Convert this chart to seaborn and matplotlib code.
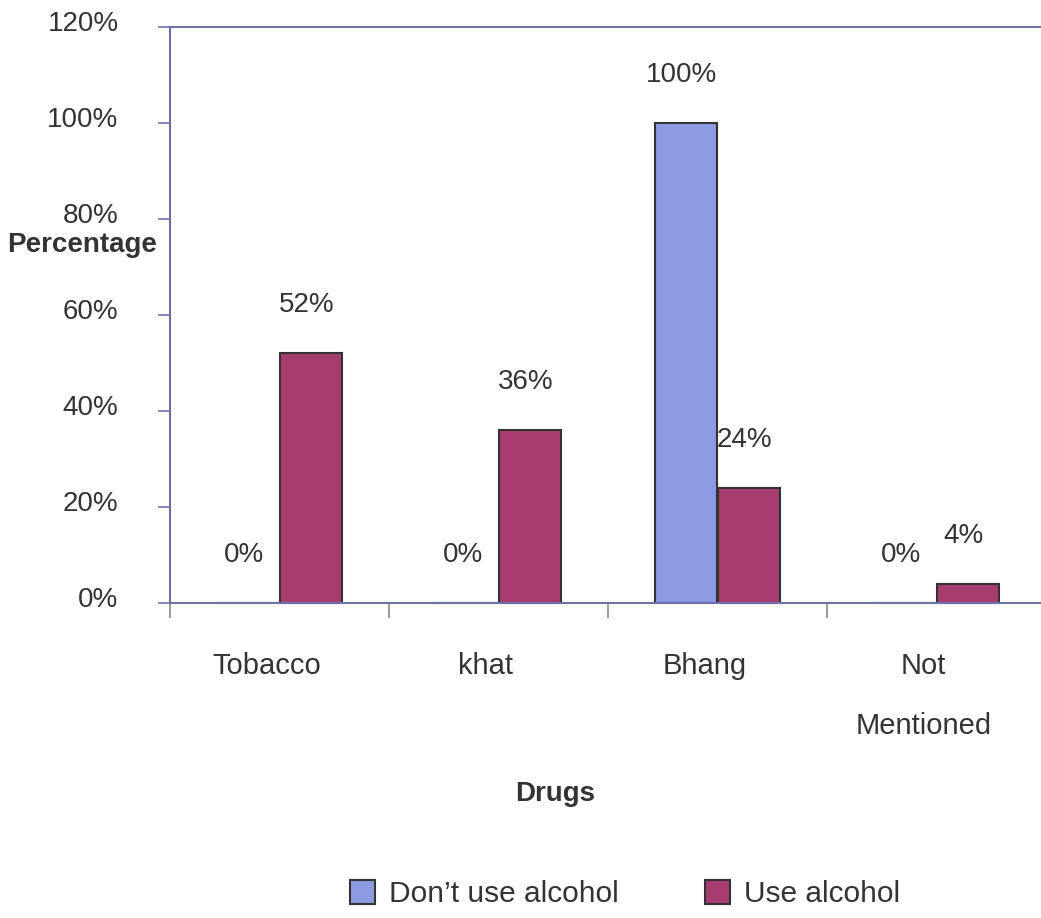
import matplotlib
matplotlib.use("Agg")
import matplotlib.pyplot as plt
import matplotlib.transforms as mtransforms
from matplotlib.patches import Patch
from matplotlib.ticker import FuncFormatter, FixedLocator
import seaborn as sns
import pandas as pd

# ---- data ----
drugs = ["Tobacco", "khat", "Bhang", "Not\nMentioned"]
groups = ["Don\u2019t use alcohol", "Use alcohol"]
dont_use = [0, 0, 100, 0]
use_alc = [52, 36, 24, 4]
y_ticks = [0, 20, 40, 60, 80, 100, 120]

colors = ["#8C9BE4", "#A63C70"]
text_col = "#333333"
spine_col = "#6E70A8"

df = pd.DataFrame({
    "Drug": drugs * 2,
    "Group": [groups[0]] * 4 + [groups[1]] * 4,
    "Value": dont_use + use_alc,
})

sns.set_style("white")
plt.rcParams["font.family"] = ["Liberation Sans", "DejaVu Sans"]

fig = plt.figure(figsize=(10.41, 9.18), dpi=100)
W, H = 1041, 918
ax = fig.add_axes([170 / W, 1 - 603 / H, 876 / W, 576 / H])

sns.barplot(data=df, x="Drug", y="Value", hue="Group", order=drugs,
            hue_order=groups, palette=colors, width=0.575,
            edgecolor="#333333", linewidth=1.5, legend=False, ax=ax,
            saturation=1)

ax.set_xlim(-0.5, 3.5)
ax.set_ylim(0, 120)
ax.set_xlabel("")
ax.set_ylabel("")

# y axis
ax.yaxis.set_major_locator(FixedLocator(y_ticks))
ax.yaxis.set_major_formatter(FuncFormatter(lambda v, p: f"{v:.0f}%"))
ax.tick_params(axis="y", direction="out", length=9, width=1.2, color=spine_col,
               pad=28, labelsize=20, labelcolor=text_col, left=True)
ytrans = mtransforms.ScaledTranslation(0, 6 / 100, fig.dpi_scale_trans)
for lab in ax.get_yticklabels():
    lab.set_transform(lab.get_transform() + ytrans)

# x axis: labels at centers, tick marks at boundaries
ax.tick_params(axis="x", which="major", length=0, pad=35, labelsize=21,
               labelcolor=text_col)
ax.set_xticks(range(len(drugs)))
ax.set_xticklabels(drugs)
ax.set_xticks([-0.5, 0.5, 1.5, 2.5, 3.5], minor=True)
ax.tick_params(axis="x", which="minor", direction="out", length=11, width=1.2,
               color="#888888", bottom=True)
xtrans = mtransforms.ScaledTranslation(-13 / 100, 0, fig.dpi_scale_trans)
for lab in ax.get_xticklabels():
    lab.set_transform(lab.get_transform() + xtrans)
    lab.set_linespacing(2.45)
    lab.set_verticalalignment("top")

for side in ["left", "top", "bottom"]:
    ax.spines[side].set_visible(True)
    ax.spines[side].set_color(spine_col)
    ax.spines[side].set_linewidth(1.5)
ax.spines["right"].set_visible(False)

# value labels
for p in ax.patches:
    h = p.get_height()
    xc = p.get_x() + p.get_width() / 2
    ax.annotate(f"{h:.0f}%", (xc, h), xytext=(-3, 34.5),
                textcoords="offset points", ha="center", va="center",
                fontsize=20, color=text_col, annotation_clip=False)

# axis titles
fig.text(82 / W, 1 - 245 / H, "Percentage", fontsize=20, fontweight="bold",
         color=text_col, ha="center", va="center")
fig.text(555 / W, 1 - 794 / H, "Drugs", fontsize=20, fontweight="bold",
         color=text_col, ha="center", va="center")

# legend
handles = [Patch(facecolor=c, edgecolor="#333333", linewidth=1.5) for c in colors]
fig.legend(handles, groups, loc="center", bbox_to_anchor=(625 / W, 1 - 894 / H),
           ncol=2, frameon=False, fontsize=21.5, handlelength=0.85,
           handleheight=0.85, handletextpad=0.45, columnspacing=2.9,
           labelcolor=text_col)

fig.savefig("out.png", dpi=100)
